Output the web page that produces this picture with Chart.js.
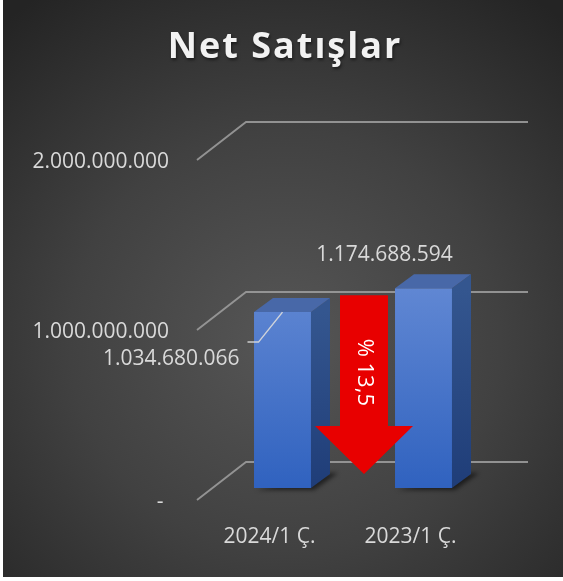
<!DOCTYPE html>
<html><head><meta charset="utf-8">
<script src="https://cdn.jsdelivr.net/npm/chart.js@4.4.0/dist/chart.umd.min.js"></script>
<style>
html,body{margin:0;padding:0;background:#fff;}
#wrap{position:absolute;left:3px;top:0;width:560px;height:577px;
background: radial-gradient(ellipse 430px 420px at 282px 340px, #565656 0%, #414141 50%, #242424 100%);}
canvas{display:block}
</style></head><body>
<div id="wrap"><canvas id="c" width="560" height="577"></canvas></div>
<script>
const chartTitle = 'Net Satışlar';
const categories = ['2024/1 Ç.', '2023/1 Ç.'];
const values = [1034680066, 1174688594];
const yTickValues = [0, 1000000000, 2000000000];
const changeLabel = '% ' + ((values[1] - values[0]) / values[0] * 100).toFixed(1).replace('.', ',');

const fmt = v => String(Math.round(v)).replace(/\B(?=(\d{3})+(?!\d))/g, '.');
const FONT = 'Open Sans';
const TXT = '#d9d9d9';

const threeD = {
  id: 'threeD',
  beforeDraw(chart) {
    const {ctx, width} = chart;
    ctx.save();
    ctx.font = `bold 36px "${FONT}"`;
    if ('letterSpacing' in ctx) ctx.letterSpacing = '2px';
    ctx.fillStyle = '#f2f2f2';
    ctx.textAlign = 'center';
    ctx.textBaseline = 'middle';
    ctx.shadowColor = 'rgba(0,0,0,0.5)';
    ctx.shadowBlur = 3;
    ctx.shadowOffsetX = 1;
    ctx.shadowOffsetY = 2;
    ctx.fillText(chartTitle, width / 2 + 2, 48);
    ctx.restore();
  },
  beforeDatasetsDraw(chart) {
    const {ctx, chartArea: ca, scales: {y}} = chart;
    ctx.save();
    ctx.strokeStyle = 'rgba(155,155,155,0.9)';
    ctx.lineWidth = 1.9;
    yTickValues.forEach(v => {
      const py = y.getPixelForValue(v);
      ctx.beginPath();
      ctx.moveTo(ca.left - 15, py + 12);
      ctx.lineTo(ca.left + 34, py - 26);
      ctx.lineTo(ca.right + 34, py - 26);
      ctx.stroke();
    });
    const meta = chart.getDatasetMeta(0);
    ctx.fillStyle = 'rgba(0,0,0,0.55)';
    ctx.filter = 'blur(2px)';
    meta.data.forEach(b => {
      const r = b.x + b.width / 2, l = b.x - b.width / 2;
      ctx.beginPath();
      ctx.moveTo(l + 2, b.base + 2);
      ctx.lineTo(r + 3, b.base + 2);
      ctx.lineTo(r + 27, b.base - 15);
      ctx.lineTo(r + 19, b.base - 15);
      ctx.closePath();
      ctx.fill();
    });
    ctx.restore();
  },
  afterDatasetsDraw(chart) {
    const {ctx, scales: {y}} = chart;
    const meta = chart.getDatasetMeta(0);
    ctx.save();
    meta.data.forEach(b => {
      const l = b.x - b.width / 2, r = b.x + b.width / 2, t = b.y, bs = b.base;
      const dx = 19, dy = -14;
      const gs = ctx.createLinearGradient(0, t, 0, bs);
      gs.addColorStop(0, '#34568f');
      gs.addColorStop(1, '#1f3d78');
      ctx.fillStyle = gs;
      ctx.beginPath();
      ctx.moveTo(r, t); ctx.lineTo(r + dx, t + dy); ctx.lineTo(r + dx, bs + dy); ctx.lineTo(r, bs);
      ctx.closePath(); ctx.fill();
      ctx.fillStyle = '#4868a8';
      ctx.beginPath();
      ctx.moveTo(l, t); ctx.lineTo(l + dx, t + dy); ctx.lineTo(r + dx, t + dy); ctx.lineTo(r, t);
      ctx.closePath(); ctx.fill();
    });
    ctx.font = `21px "${FONT}"`;
    ctx.fillStyle = TXT;
    ctx.textBaseline = 'middle';
    const b0 = meta.data[0], b1 = meta.data[1];
    ctx.textAlign = 'right';
    ctx.fillText(fmt(values[0]), b0.x - 43, b0.y + 47);
    ctx.strokeStyle = 'rgba(220,220,220,0.9)';
    ctx.lineWidth = 1.5;
    ctx.beginPath();
    ctx.moveTo(b0.x, b0.y);
    ctx.lineTo(b0.x - 24, b0.y + 30);
    ctx.lineTo(b0.x - 35, b0.y + 30);
    ctx.stroke();
    ctx.textAlign = 'center';
    ctx.fillText(fmt(values[1]), b1.x - 39, b1.y - 33);
    const cx = (b0.x + b1.x) / 2 + 11;
    const top = b1.y + 7, tip = y.getPixelForValue(0) - 14, headY = tip - 48;
    ctx.fillStyle = '#e80000';
    ctx.beginPath();
    ctx.moveTo(cx - 24, top); ctx.lineTo(cx + 24, top); ctx.lineTo(cx + 24, headY);
    ctx.lineTo(cx + 49, headY); ctx.lineTo(cx, tip); ctx.lineTo(cx - 49, headY);
    ctx.lineTo(cx - 24, headY); ctx.closePath(); ctx.fill();
    ctx.translate(cx, top + 77);
    ctx.rotate(Math.PI / 2);
    ctx.fillStyle = '#ffffff';
    ctx.font = `22px "${FONT}"`;
    ctx.textAlign = 'center';
    ctx.textBaseline = 'middle';
    ctx.fillText(changeLabel, 0, 0);
    ctx.restore();
  }
};

new Chart(document.getElementById('c'), {
  type: 'bar',
  data: {
    labels: categories,
    datasets: [{
      data: values,
      categoryPercentage: 1,
      barPercentage: 0.404,
      backgroundColor: ctx => {
        const ch = ctx.chart, ca = ch.chartArea;
        if (!ca) return '#4472c4';
        const g = ch.ctx.createLinearGradient(0, ca.top + 140, 0, ca.bottom);
        g.addColorStop(0, '#6087d3');
        g.addColorStop(1, '#3062bf');
        return g;
      },
      borderWidth: 0
    }]
  },
  options: {
    responsive: false,
    animation: false,
    layout: {padding: {top: 148, right: 69, bottom: 0, left: 0}},
    plugins: {
      legend: {display: false},
      tooltip: {enabled: false},
      title: {display: false}
    },
    scales: {
      x: {
        grid: {display: false, drawTicks: false},
        border: {display: false},
        ticks: {color: TXT, font: {family: FONT, size: 21}, padding: 36, labelOffset: -13, maxRotation: 0},
        afterFit: s => { s.height = 89; }
      },
      y: {
        min: 0, max: 2000000000,
        grid: {display: false, drawTicks: false},
        border: {display: false},
        afterBuildTicks: s => { s.ticks = yTickValues.map(v => ({value: v})); },
        ticks: {
          color: TXT, font: {family: FONT, size: 21}, padding: 43, labelOffset: 14,
          callback: v => v === 0 ? '- ' : fmt(v)
        },
        afterFit: s => { s.width = 209; }
      }
    }
  },
  plugins: [threeD]
});
</script>
</body></html>
